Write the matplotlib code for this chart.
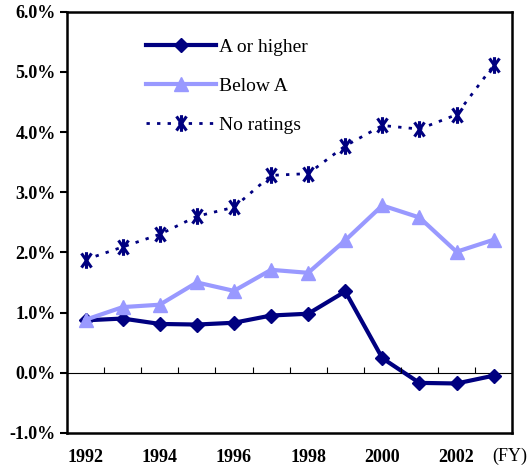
import matplotlib.pyplot as plt
from matplotlib.path import Path

# default rates by rating class, fiscal years 1992-2003 (%)
years = ['1992', '1993', '1994', '1995', '1996', '1997',
         '1998', '1999', '2000', '2001', '2002', '2003']
a_or_higher = [0.87, 0.90, 0.81, 0.80, 0.83, 0.95, 0.98, 1.35, 0.24, -0.17, -0.18, -0.05]
below_a = [0.88, 1.09, 1.13, 1.50, 1.36, 1.71, 1.66, 2.20, 2.78, 2.58, 2.01, 2.21]
no_ratings = [1.88, 2.09, 2.30, 2.60, 2.75, 3.28, 3.31, 3.77, 4.11, 4.05, 4.29, 5.11]

yticks = [-1, 0, 1, 2, 3, 4, 5, 6]

plt.rcParams['font.family'] = 'Liberation Serif'

# asterisk marker: an X with a vertical bar through it
star = Path([(-0.6, -0.85), (0.6, 0.85), (-0.6, 0.85), (0.6, -0.85), (0, -1), (0, 1)],
            [Path.MOVETO, Path.LINETO, Path.MOVETO, Path.LINETO, Path.MOVETO, Path.LINETO])

fig = plt.figure(figsize=(5.28, 4.73), dpi=100)
ax = fig.add_axes([0.127, 0.085, 0.843, 0.89])

x = list(range(len(years)))
ax.plot(x, a_or_higher, color='#000080', lw=3, marker='D', ms=7, label='A or higher')
ax.plot(x, below_a, color='#9999FF', lw=3, marker='^', ms=10, label='Below A')
ax.plot(x, no_ratings, color='#000080', lw=2, ls=(0, (1.2, 2.6)),
        marker=star, ms=12, mew=2.2, label='No ratings')

# zero line with small category separators
ax.axhline(0, color='black', lw=0.8, zorder=1)
ax.vlines([i + 0.5 for i in range(len(years) - 1)], 0, 0.1, color='black', lw=0.8)

ax.set_xlim(-0.5, len(years) - 0.5)
ax.set_ylim(-1, 6)
ax.set_yticks(yticks)
ax.set_yticklabels(['%.1f%%' % v for v in yticks], fontsize=13, fontweight='bold')
ax.set_xticks(x[::2])
ax.set_xticklabels(years[::2], fontsize=13, fontweight='bold')
ax.tick_params(axis='x', length=0, pad=12)
ax.tick_params(axis='y', length=5, width=1.5, pad=3)
for s in ax.spines.values():
    s.set_linewidth(1.8)

ax.text(0.995, -0.035, '(FY)', transform=ax.transAxes, fontsize=13,
        ha='center', va='top')

ax.legend(loc='upper left', bbox_to_anchor=(0.139, 0.978), frameon=False,
          fontsize=14, handlelength=3.6, labelspacing=1.1, handletextpad=0.15)

plt.savefig('out.png')
